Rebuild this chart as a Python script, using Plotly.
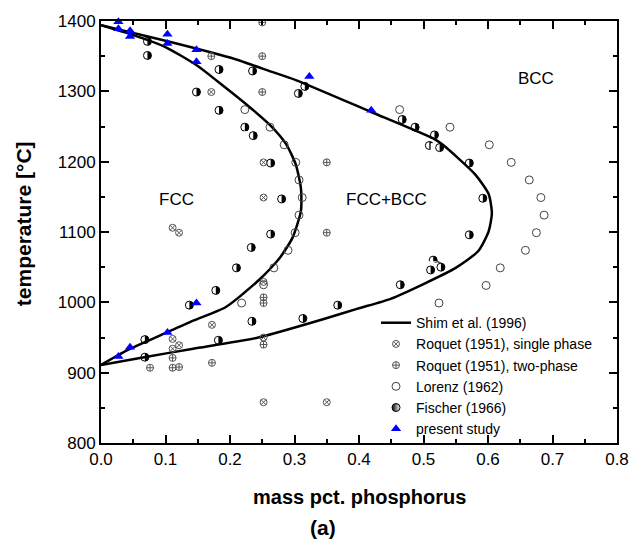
import plotly.graph_objects as go

# Shim et al. (1996) phase boundaries
outer_x = [0.0, 0.1, 0.2, 0.264, 0.302, 0.418, 0.515, 0.53, 0.58, 0.601, 0.606, 0.601, 0.585, 0.55, 0.5, 0.449, 0.398, 0.348, 0.244, 0.143, 0.067, 0.0]
outer_t = [1394, 1372, 1348, 1328, 1316, 1271, 1233, 1224, 1182, 1154, 1127, 1101, 1073, 1049, 1026, 1005, 991, 977, 950, 934, 922, 911]
inner_x = [0.0, 0.05, 0.1, 0.15, 0.181, 0.226, 0.261, 0.287, 0.302, 0.31, 0.31, 0.297, 0.277, 0.244, 0.193, 0.143, 0.092, 0.041, 0.0]
inner_t = [1394, 1380, 1363, 1336, 1314, 1281, 1253, 1225, 1196, 1162, 1130, 1092, 1063, 1031, 993, 974, 953, 932, 911]

# Roquet (1951), single phase
rs_x = [0.171, 0.252, 0.252, 0.111, 0.121, 0.111, 0.111, 0.121, 0.172, 0.252, 0.252, 0.252, 0.350]
rs_t = [1299, 1199, 1149, 1106, 1099, 948, 934, 939, 968, 1029, 950, 858, 858]

# Roquet (1951), two-phase
rt_x = [0.250, 0.171, 0.250, 0.250, 0.350, 0.350, 0.252, 0.252, 0.076, 0.111, 0.111, 0.121, 0.172, 0.252]
rt_t = [1398, 1350, 1350, 1299, 1199, 1099, 1007, 999, 907, 921, 907, 908, 914, 940]

# Lorenz (1962)
lo_x = [0.223, 0.262, 0.284, 0.302, 0.307, 0.312, 0.307, 0.301, 0.290, 0.268, 0.252, 0.218,
        0.463, 0.541, 0.602, 0.636, 0.664, 0.682, 0.687, 0.675, 0.658, 0.619, 0.597, 0.524]
lo_t = [1274, 1249, 1224, 1199, 1174, 1149, 1124, 1099, 1074, 1049, 1025, 999,
        1274, 1249, 1224, 1199, 1174, 1149, 1124, 1099, 1074, 1049, 1024, 999]

# Fischer (1966)
fi_x = [0.072, 0.072, 0.183, 0.235, 0.148, 0.183, 0.223, 0.236, 0.316, 0.306, 0.467, 0.487, 0.517, 0.509,
        0.525, 0.571, 0.592, 0.571, 0.515, 0.522, 0.527, 0.511, 0.464, 0.367, 0.263, 0.280, 0.263, 0.233,
        0.210, 0.178, 0.137, 0.234, 0.313, 0.182, 0.068, 0.068]
fi_t = [1371, 1351, 1331, 1329, 1299, 1273, 1249, 1237, 1307, 1297, 1260, 1249, 1238, 1223,
        1220, 1198, 1148, 1096, 1060, 1052, 1050, 1046, 1025, 996, 1198, 1147, 1097, 1078,
        1049, 1017, 996, 973, 977, 946, 947, 922]

# present study
ps_x = [0.027, 0.027, 0.045, 0.045, 0.103, 0.103, 0.148, 0.148, 0.323, 0.419, 0.027, 0.045, 0.103, 0.148]
ps_t = [1399, 1389, 1386, 1378, 1381, 1368, 1359, 1342, 1321, 1273, 923, 936, 957, 999]

x_ticks = [0.0, 0.1, 0.2, 0.3, 0.4, 0.5, 0.6, 0.7, 0.8]
x_ticklabels = ["0.0", "0.1", "0.2", "0.3", "0.4", "0.5", "0.6", "0.7", "0.8"]
y_ticks = [800, 900, 1000, 1100, 1200, 1300, 1400]

FONT = "Arial, Liberation Sans, sans-serif"
FI_SIZE = 8

fig = go.Figure()

# Fischer half-filled circles: black disk, white square covering left half, outline
for fx, ft in zip(fi_x, fi_t):
    fig.add_trace(go.Scatter(x=[fx], y=[ft], mode="markers", showlegend=False, hoverinfo="skip",
                             marker=dict(symbol="circle", size=FI_SIZE, color="black", line=dict(width=0))))
    fig.add_trace(go.Scatter(x=[fx], y=[ft], mode="markers", showlegend=False, hoverinfo="skip",
                             marker=dict(symbol="square", size=FI_SIZE + 1, color="white", angle=90,
                                         standoff=(FI_SIZE + 1) / 2, line=dict(width=0))))
    fig.add_trace(go.Scatter(x=[fx], y=[ft], mode="markers", showlegend=False, hoverinfo="skip",
                             marker=dict(symbol="circle-open", size=FI_SIZE, color="black", line=dict(width=1))))

fig.add_trace(go.Scatter(x=outer_x, y=outer_t, mode="lines", name="Shim et al. (1996)",
                         line=dict(color="black", width=2.5, shape="spline", smoothing=0.6),
                         legendgroup="shim", legendrank=1))
fig.add_trace(go.Scatter(x=inner_x, y=inner_t, mode="lines", showlegend=False,
                         line=dict(color="black", width=2.5, shape="spline", smoothing=0.6),
                         legendgroup="shim"))
fig.add_trace(go.Scatter(x=rs_x, y=rs_t, mode="markers", name="Roquet (1951), single phase", legendrank=2,
                         marker=dict(symbol="circle-x-open", size=7, color="#555555", line=dict(width=1))))
fig.add_trace(go.Scatter(x=rt_x, y=rt_t, mode="markers", name="Roquet (1951), two-phase", legendrank=3,
                         marker=dict(symbol="circle-cross-open", size=7, color="#555555", line=dict(width=1))))
fig.add_trace(go.Scatter(x=lo_x, y=lo_t, mode="markers", name="Lorenz (1962)", legendrank=4,
                         marker=dict(symbol="circle-open", size=8, color="#444444", line=dict(width=1))))
# Fischer legend entry
fig.add_trace(go.Scatter(x=[None], y=[None], mode="markers", name="Fischer (1966)", legendrank=5,
                         marker=dict(symbol="circle", size=8, color="black",
                                     gradient=dict(type="horizontal", color="white"),
                                     line=dict(width=1, color="black"))))
fig.add_trace(go.Scatter(x=ps_x, y=ps_t, mode="markers", name="present study", cliponaxis=False, legendrank=6,
                         marker=dict(symbol="triangle-up", size=9, color="#0000ff")))

annots = [
    dict(x=0.117, y=1146, text="FCC"),
    dict(x=0.443, y=1146, text="FCC+BCC"),
    dict(x=0.675, y=1318, text="BCC"),
]
for a in annots:
    fig.add_annotation(x=a["x"], y=a["y"], text=a["text"], showarrow=False, xref="x", yref="y",
                       font=dict(family=FONT, size=17, color="black"))

fig.add_annotation(x=0.5, y=-0.127, xref="paper", yref="paper", text="<b>mass pct. phosphorus</b>",
                   showarrow=False, font=dict(family=FONT, size=20, color="black"), yanchor="middle")
fig.add_annotation(x=-0.15, y=0.52, xref="paper", yref="paper", text="<b>temperature [°C]</b>",
                   showarrow=False, textangle=-90, font=dict(family=FONT, size=21, color="black"),
                   xanchor="center", yanchor="middle")
fig.add_annotation(x=0.43, y=-0.2, xref="paper", yref="paper", text="<b>(a)</b>",
                   showarrow=False, font=dict(family=FONT, size=21, color="black"), yanchor="middle")

axis_common = dict(showline=True, linewidth=2, linecolor="black", mirror="ticks",
                   ticks="inside", ticklen=8, tickwidth=1.5, tickcolor="black",
                   showgrid=False, zeroline=False,
                   tickfont=dict(family=FONT, size=17, color="black"))
fig.update_xaxes(range=[0, 0.8], tickvals=x_ticks, ticktext=x_ticklabels,
                 minor=dict(ticks="inside", ticklen=4, tickwidth=1.5, tickcolor="black", dtick=0.05),
                 **axis_common)
fig.update_yaxes(range=[800, 1400], tickvals=y_ticks,
                 minor=dict(ticks="inside", ticklen=4, tickwidth=1.5, tickcolor="black", dtick=50),
                 **axis_common)

fig.update_layout(
    width=641, height=552,
    margin=dict(l=101, r=13, t=19, b=109),
    plot_bgcolor="white", paper_bgcolor="white",
    showlegend=True,
    legend=dict(x=0.533, y=0.322, xanchor="left", yanchor="top", bgcolor="rgba(0,0,0,0)",
                font=dict(family=FONT, size=14, color="black"), tracegroupgap=0,
                itemwidth=30, traceorder="normal"),
)

fig.write_html("out.html")
